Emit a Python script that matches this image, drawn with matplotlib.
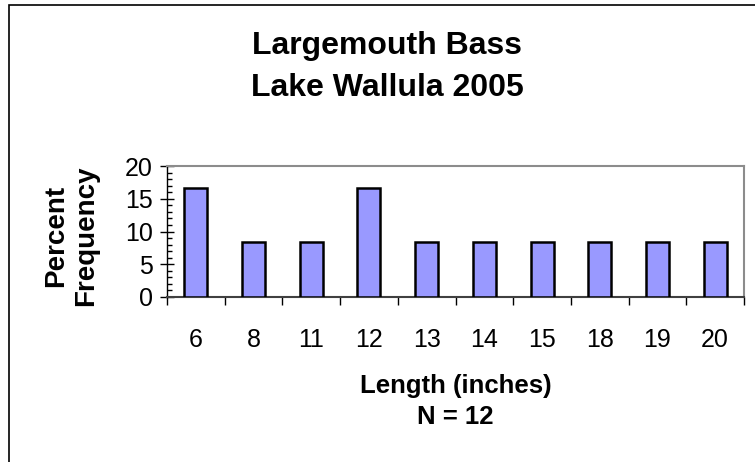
import matplotlib
matplotlib.use("Agg")
import matplotlib.pyplot as plt
from matplotlib.patches import Rectangle
from matplotlib.ticker import MultipleLocator

plt.rcParams['font.family'] = ['Liberation Sans', 'DejaVu Sans']

lengths = ["6", "8", "11", "12", "13", "14", "15", "18", "19", "20"]
percent = [16.67, 8.33, 8.33, 16.67, 8.33, 8.33, 8.33, 8.33, 8.33, 8.33]
y_ticks = [0, 5, 10, 15, 20]
title_lines = ["Largemouth Bass", "Lake Wallula 2005"]
xlabel_lines = ["Length (inches)", "N = 12"]
ylabel_lines = ["Percent", "Frequency"]

W, H = 755, 462
fig = plt.figure(figsize=(W / 100, H / 100), dpi=100)

def fx(px):
    return px / W

def fy(py):
    return 1 - py / H

# outer chart border (extends beyond right/bottom edge of the image)
fig.patches.append(Rectangle((fx(9), -0.1), 1.2, fy(5.5) + 0.1, transform=fig.transFigure,
                             fill=False, edgecolor='black', linewidth=1.2))

ax = fig.add_axes([fx(167), fy(297), (744 - 167) / W, (297 - 166) / H])
x = list(range(len(lengths)))
ax.bar(x, percent, width=0.4, color='#9999FF', edgecolor='black', linewidth=1.8, zorder=3)

ax.set_xlim(-0.5, len(lengths) - 0.5)
ax.set_ylim(0, 20)
ax.set_yticks(y_ticks)
ax.yaxis.set_minor_locator(MultipleLocator(1))
ax.tick_params(axis='y', which='major', direction='inout', length=10, width=1, labelsize=18, pad=5)
ax.tick_params(axis='y', which='minor', direction='in', length=3.5, width=1)

ax.set_xticks(x)
ax.set_xticklabels(lengths)
ax.set_xticks([i + 0.5 for i in range(-1, len(lengths))], minor=True)
ax.tick_params(axis='x', which='major', length=0, labelsize=18, pad=22.5)
ax.tick_params(axis='x', which='minor', direction='out', length=6, width=1, color='black')

for s in ['top', 'right']:
    ax.spines[s].set_color('#8c8c8c')
    ax.spines[s].set_linewidth(1.5)
ax.spines['left'].set_color('black')
ax.spines['bottom'].set_color('#404040')
ax.spines['left'].set_linewidth(1)
ax.spines['bottom'].set_linewidth(1.5)

# title (two lines)
for line, base in zip(title_lines, [54, 96]):
    fig.text(fx(387), fy(base), line, ha='center', va='baseline', fontsize=23, fontweight='bold')

# x axis label (two lines)
xc = fx((167 + 744) / 2)
for line, base in zip(xlabel_lines, [393, 424]):
    fig.text(xc, fy(base), line, ha='center', va='baseline', fontsize=18.5, fontweight='bold')

# y axis label (two rotated lines)
for line, base in zip(ylabel_lines, [63, 93]):
    fig.text(fx(base), fy(236), line, ha='center', va='baseline', rotation=90,
             rotation_mode='anchor', fontsize=20, fontweight='bold')

fig.savefig("out.png", dpi=100)
